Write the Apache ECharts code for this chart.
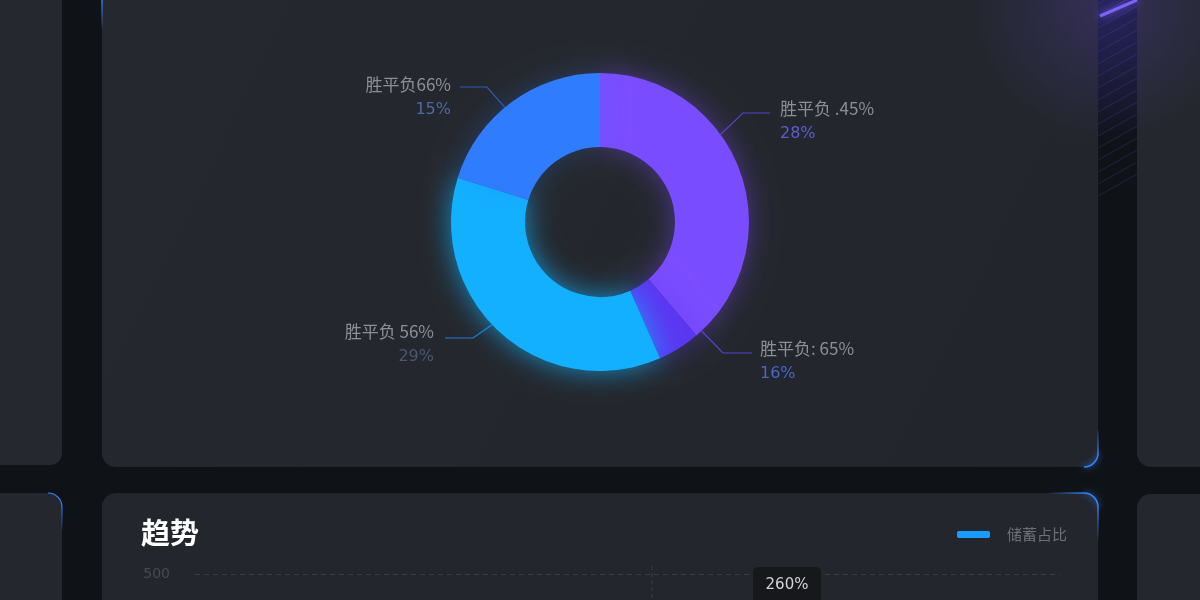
<!DOCTYPE html>
<html><head><meta charset="utf-8">
<script src="https://cdn.jsdelivr.net/npm/echarts@6/dist/echarts.min.js"></script>
<style>html,body{margin:0;padding:0;background:#0f1216}#c{width:1200px;height:600px}</style>
</head><body><div id="c"></div>
<script>
// ---- data ----
const sliceValues = [38.8, 4.6, 36.4, 20.2];
const sliceNames = ['胜平负 .45%', '胜平负: 65%', '胜平负 56%', '胜平负66%'];
const slicePercents = ['28%', '16%', '29%', '15%'];
const trendCategories = ['1月', '2月', '3月', '4月', '5月', '6月', '7月'];
const trendValues = [180, 220, 200, 260, 240, 300, 280];
const trendName = '储蓄占比';
const yTicks = [0, 100, 200, 300, 400, 500];
const tooltipText = '260%';

// ---- styles / layout ----
const sliceColors = ['#7a4cff', '#5a36f2', '#12b0ff', '#2f7cff'];
const sliceGlow = ['rgba(122,76,255,0.45)', 'rgba(90,54,242,0.45)', 'rgba(18,176,255,0.75)', 'rgba(47,124,255,0.25)'];
const lineColors = ['#5a40d0', '#5a40d0', '#1b7fd6', '#2a5cb8'];
const pctColors = ['#5b5fd2', '#4a66c8', '#4a5874', '#4a6aa8'];
const C = [600, 222], R = 149;
const spots = [
  {ang: 54, elbow: [743, 113], end: [770, 113], x: 780, y: 96, align: 'left'},
  {ang: 137, elbow: [723, 353], end: [752, 353], x: 760, y: 336, align: 'left'},
  {ang: 226.4, elbow: [473, 338], end: [445, 338], x: 434, y: 319, align: 'right'},
  {ang: 320.3, elbow: [487, 87], end: [460, 87], x: 451, y: 72, align: 'right'}
];
function onRim(a) { const r = a * Math.PI / 180; return [C[0] + R * Math.sin(r), C[1] - R * Math.cos(r)]; }

const chart = echarts.init(document.getElementById('c'), null, {renderer: 'canvas'});

const stripes = [];
for (let k = -6; k < 14; k++) {
  stripes.push({type: 'line', silent: true, z: 1,
    shape: {x1: 1098, y1: 40 + k * 12, x2: 1137, y2: 40 + k * 12 - 22},
    style: {stroke: 'rgba(90,80,220,0.25)', lineWidth: 1}});
}

const panelFill = {type: 'linear', x: 0, y: 0, x2: 1, y2: 1, colorStops: [{offset: 0, color: '#25282e'}, {offset: 1, color: '#22252b'}]};

const graphics = [
  {type: 'rect', silent: true, z: 0, shape: {x: -20, y: -20, width: 82, height: 485, r: 12}, style: {fill: '#25282e'}},
  {type: 'rect', silent: true, z: 0, shape: {x: 102, y: -20, width: 996, height: 487, r: 14}, style: {fill: panelFill}},
  {type: 'rect', silent: true, z: 0, shape: {x: 1137, y: -20, width: 90, height: 487, r: 14}, style: {fill: '#24272d'}},
  {type: 'rect', silent: true, z: 0, shape: {x: -20, y: 493, width: 82, height: 150, r: 12}, style: {fill: '#24272d'}},
  {type: 'rect', silent: true, z: 0, shape: {x: 102, y: 493, width: 996, height: 150, r: 14}, style: {fill: '#23262c'}},
  {type: 'rect', silent: true, z: 0, shape: {x: 1137, y: 494, width: 90, height: 150, r: 14}, style: {fill: '#24272d'}},
  // purple glow top right
  {type: 'circle', silent: true, z: 1, shape: {cx: 1105, cy: 5, r: 140},
    style: {fill: {type: 'radial', x: 0.5, y: 0.5, r: 0.5, colorStops: [{offset: 0, color: 'rgba(110,80,240,0.22)'}, {offset: 1, color: 'rgba(110,80,240,0)'}]}}},
  {type: 'rect', silent: true, z: 1, shape: {x: 1098, y: 0, width: 39, height: 140},
    style: {fill: {type: 'linear', x: 0, y: 0, x2: 0, y2: 1, colorStops: [{offset: 0, color: 'rgba(40,40,110,0.5)'}, {offset: 1, color: 'rgba(40,40,110,0)'}]}}},
  ...stripes,
  {type: 'line', silent: true, z: 2, shape: {x1: 1100, y1: 16, x2: 1137, y2: 0},
    style: {stroke: '#7d62ff', lineWidth: 3, shadowBlur: 10, shadowColor: '#7d62ff'}},
  // blue edge highlights
  {type: 'line', silent: true, z: 2, shape: {x1: 102, y1: 0, x2: 102, y2: 30},
    style: {stroke: {type: 'linear', x: 0, y: 0, x2: 0, y2: 1, colorStops: [{offset: 0, color: '#2f86ff'}, {offset: 1, color: 'rgba(47,134,255,0)'}]}, lineWidth: 1.5}},
  {type: 'arc', silent: true, z: 2, shape: {cx: 1084, cy: 453, r: 14, startAngle: 0, endAngle: Math.PI / 2},
    style: {stroke: '#2f86ff', lineWidth: 1.5, fill: null, shadowBlur: 6, shadowColor: '#2f86ff'}},
  {type: 'line', silent: true, z: 2, shape: {x1: 1098, y1: 430, x2: 1098, y2: 453},
    style: {stroke: {type: 'linear', x: 0, y: 0, x2: 0, y2: 1, colorStops: [{offset: 0, color: 'rgba(47,134,255,0)'}, {offset: 1, color: '#2f86ff'}]}, lineWidth: 1.5}},
  {type: 'arc', silent: true, z: 2, shape: {cx: 1084, cy: 507, r: 14, startAngle: -Math.PI / 2, endAngle: 0},
    style: {stroke: '#2f86ff', lineWidth: 1.5, fill: null, shadowBlur: 6, shadowColor: '#2f86ff'}},
  {type: 'line', silent: true, z: 2, shape: {x1: 1098, y1: 507, x2: 1098, y2: 540},
    style: {stroke: {type: 'linear', x: 0, y: 0, x2: 0, y2: 1, colorStops: [{offset: 0, color: '#2f86ff'}, {offset: 1, color: 'rgba(47,134,255,0)'}]}, lineWidth: 1.5}},
  {type: 'line', silent: true, z: 2, shape: {x1: 1050, y1: 493, x2: 1084, y2: 493},
    style: {stroke: {type: 'linear', x: 0, y: 0, x2: 1, y2: 0, colorStops: [{offset: 0, color: 'rgba(47,134,255,0)'}, {offset: 1, color: '#2f86ff'}]}, lineWidth: 1.5}},
  {type: 'arc', silent: true, z: 2, shape: {cx: 48, cy: 507, r: 14, startAngle: -Math.PI / 2, endAngle: 0},
    style: {stroke: '#2f86ff', lineWidth: 1.2, fill: null}},
  {type: 'line', silent: true, z: 2, shape: {x1: 62, y1: 507, x2: 62, y2: 530},
    style: {stroke: {type: 'linear', x: 0, y: 0, x2: 0, y2: 1, colorStops: [{offset: 0, color: '#2f86ff'}, {offset: 1, color: 'rgba(47,134,255,0)'}]}, lineWidth: 1.2}},
  // pointer line and tooltip box
  {type: 'line', silent: true, z: 5, shape: {x1: 652, y1: 566, x2: 652, y2: 600},
    style: {stroke: '#3c4047', lineWidth: 1, lineDash: [4, 3]}},
  {type: 'rect', silent: true, z: 6, shape: {x: 753, y: 567, width: 68, height: 40, r: 5}, style: {fill: '#16181c'}},
  {type: 'text', silent: true, z: 7, x: 787, y: 585,
    style: {text: tooltipText, fill: '#d0d3d8', fontSize: 15, fontFamily: 'DejaVu Sans', align: 'center', verticalAlign: 'middle'}}
];

const pieData = sliceValues.map((v, i) => ({
  value: v, name: sliceNames[i],
  itemStyle: {color: sliceColors[i], shadowBlur: 28, shadowColor: sliceGlow[i]},
  labelLine: {lineStyle: {color: lineColors[i], width: 1.2}},
  label: {rich: {b: {color: pctColors[i], fontSize: 16, lineHeight: 25, fontFamily: 'DejaVu Sans'}}}
}));

chart.setOption({
  backgroundColor: '#0f1216',
  animation: false,
  graphic: graphics,
  title: {text: '趋势', left: 136, top: 513,
    textStyle: {color: '#ffffff', fontSize: 29, fontWeight: 'bold', fontFamily: 'Noto Sans CJK SC'}},
  legend: {left: 952, top: 522, icon: 'roundRect', itemWidth: 33, itemHeight: 7,
    data: [trendName],
    textStyle: {color: '#6c7079', fontSize: 15, fontFamily: 'Noto Sans CJK SC', padding: [0, 0, 0, 12]}},
  grid: {left: 195, right: 140, top: 574, height: 300, outerBoundsMode: 'none', containLabel: false},
  xAxis: {type: 'category', data: trendCategories, boundaryGap: false,
    axisLine: {show: false}, axisTick: {show: false}, axisLabel: {show: false}},
  yAxis: {type: 'value', min: yTicks[0], max: yTicks[yTicks.length - 1], interval: 100,
    axisLine: {show: false}, axisTick: {show: false},
    axisLabel: {color: '#464a51', fontSize: 14, margin: 25, fontFamily: 'DejaVu Sans'},
    splitLine: {lineStyle: {color: '#393d44', type: [5, 4]}}},
  series: [
    {type: 'pie', center: C, radius: [75, R], startAngle: 90, clockwise: true,
      avoidLabelOverlap: false, z: 3,
      label: {show: true, position: 'outside',
        formatter: p => '{a|' + p.name + '}\n{b|' + slicePercents[p.dataIndex] + '}',
        rich: {a: {color: '#8b9098', fontSize: 17, lineHeight: 25, fontFamily: 'Noto Sans CJK SC'}}},
      labelLine: {show: true, length: 20, length2: 25},
      labelLayout: function (params) {
        const s = spots[params.dataIndex];
        return {x: s.x, y: s.y, align: s.align, verticalAlign: 'top',
          labelLinePoints: [onRim(s.ang), s.elbow, s.end]};
      },
      emphasis: {disabled: true},
      data: pieData},
    {type: 'line', name: trendName, data: trendValues, smooth: true, showSymbol: false,
      color: '#1a9bff', lineStyle: {width: 3, color: '#1a9bff'}}
  ]
});
</script></body></html>
